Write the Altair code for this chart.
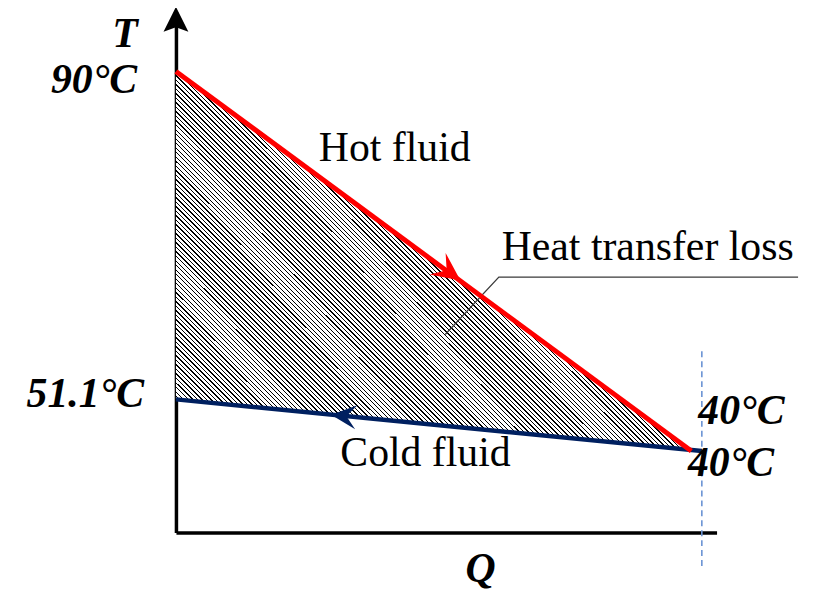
import altair as alt
import pandas as pd

# ---------------- values ----------------
# Q as a fraction of the exchanger duty, T in degC (schematic, broken T axis)
hot_q = [0.0, 0.98]
hot_t = [90.0, 40.0]
cold_q = [0.0, 1.0]
cold_t = [51.1, 40.0]

loss_q = [0.0, 0.98]
loss_hot_t = [90.0, 40.0]
loss_cold_t = [51.1, 40.2]

# flow-direction arrow tips on each stream
hot_arrow_q = [0.541]
hot_arrow_t = [65.2]
cold_arrow_q = [0.295]
cold_arrow_t = [47.8]

# end of exchanger (dashed marker) and leader of the "loss" callout
end_q = [1.0]
end_t_top = [56.8]
end_t_bottom = [14.8]
leader_q = [0.512, 0.614, 1.183]
leader_t = [58.8, 65.6, 65.6]

# annotation texts and their anchors
temp_labels = ["90°C", "51.1°C", "40°C", "40°C"]
temp_q = [0.0, 0.0, 0.98, 1.0]
temp_t = [90.0, 51.1, 40.0, 40.0]
stream_labels = ["Hot fluid", "Cold fluid", "Heat transfer loss"]
stream_q = [0.416, 0.4745, 0.897]
stream_t = [79.4, 36.8, 67.6]

# axis extents (scale limits of the schematic)
q_axis = [0.0, 1.028]
t_axis = [22.5, 51.1, 97.07]

# ---------------- scales & axes ----------------
W, H = 544, 524
xs = alt.Scale(domain=q_axis, range=[0, W], nice=False, zero=False)
ys = alt.Scale(domain=t_axis, range=[H, 390, 0], nice=False, zero=False)

SERIF = "Liberation Serif"

x_axis = alt.Axis(title="Q", labels=False, ticks=False, grid=False,
                  domain=True, domainColor="black", domainWidth=3.5,
                  titleFont=SERIF, titleFontSize=42, titleFontStyle="italic",
                  titleFontWeight="bold", titleColor="black",
                  titleX=306, titleY=49, titleAlign="center",
                  titleBaseline="alphabetic")
y_axis = alt.Axis(title="T", labels=False, ticks=False, grid=False,
                  domain=True, domainColor="black", domainWidth=3.5,
                  titleFont=SERIF, titleFontSize=42, titleFontStyle="italic",
                  titleFontWeight="bold", titleColor="black", titleAngle=0,
                  titleX=-39, titleY=35, titleAlign="right",
                  titleBaseline="alphabetic")


def X(field):
    return alt.X(field, type="quantitative", scale=xs, axis=x_axis)


def Y(field):
    return alt.Y(field, type="quantitative", scale=ys, axis=y_axis)


# ---------------- hatch fill (pattern style of the loss region) ----------------
bw, bh = 518.0, 382.0
period = 3.2
ink = 0.3
span = (bw + bh) / 2 ** 0.5
n = int(span / period)
s = (bw + bh) / (bw ** 2 + bh ** 2)
stops = []
for i in range(n):
    a = i / n
    b = (i + ink) / n
    c = min((i + 1) / n, 1.0)
    stops += [
        alt.GradientStop(color="#000000", offset=a),
        alt.GradientStop(color="#000000", offset=b),
        alt.GradientStop(color="#ffffff", offset=b),
        alt.GradientStop(color="#ffffff", offset=c),
    ]
hatch = alt.LinearGradient(gradient="linear", stops=stops,
                           x1=0.0, y1=1.0, x2=bw * s, y2=1.0 - bh * s)

# ---------------- layers ----------------
loss_df = pd.DataFrame({"q": loss_q, "hot": loss_hot_t, "cold": loss_cold_t})
loss = alt.Chart(loss_df).mark_area(fill=hatch, strokeWidth=0).encode(
    x=X("q"), y=Y("hot"), y2=alt.Y2("cold"))

leader = alt.Chart(pd.DataFrame({"q": leader_q, "t": leader_t,
                                 "o": list(range(len(leader_q)))})).mark_line(
    color="#3a3a3a", strokeWidth=1.3).encode(
    x=X("q"), y=Y("t"), order="o:Q")

end_df = pd.DataFrame({"q": end_q, "t1": end_t_top, "t2": end_t_bottom})
end_rule = alt.Chart(end_df).mark_rule(
    color="#6a93d4", strokeWidth=1.6, strokeDash=[6, 4]).encode(
    x=X("q"), y=Y("t1"), y2=alt.Y2("t2"))

cold = alt.Chart(pd.DataFrame({"q": cold_q, "t": cold_t})).mark_line(
    color="#002060", strokeWidth=4.5).encode(x=X("q"), y=Y("t"))
hot = alt.Chart(pd.DataFrame({"q": hot_q, "t": hot_t})).mark_line(
    color="#ff0000", strokeWidth=5).encode(x=X("q"), y=Y("t"))

ARROW = "M0,0 L-1.9,-0.9 L-1.15,0 L-1.9,0.9 Z"
hot_arrow = alt.Chart(pd.DataFrame({"q": hot_arrow_q, "t": hot_arrow_t})).mark_point(
    shape=ARROW, filled=True, color="#ff0000", opacity=1, size=900,
    angle=36.4, strokeWidth=0).encode(x=X("q"), y=Y("t"))
cold_arrow = alt.Chart(pd.DataFrame({"q": cold_arrow_q, "t": cold_arrow_t})).mark_point(
    shape=ARROW, filled=True, color="#002060", opacity=1, size=720,
    angle=185.6, strokeWidth=0).encode(x=X("q"), y=Y("t"))

AXIS_ARROW = "M0.4,0 L-1.6,-1 L-1.25,0 L-1.6,1 Z"
axis_arrow = alt.Chart(pd.DataFrame({"q": [q_axis[0]], "t": [t_axis[-1]]})).mark_point(
    shape=AXIS_ARROW, filled=True, color="black", opacity=1, size=625,
    angle=270, strokeWidth=0).encode(x=X("q"), y=Y("t"))

# temperature labels (bold italic); offsets are pure text placement
temp_df = pd.DataFrame({"q": temp_q, "t": temp_t, "label": temp_labels})
offsets = [(-39, 22, "right"), (-32, 8, "right"), (7, -27, "left"), (-14, 25, "left")]
temp_layers = []
for i, (dx, dy, al) in enumerate(offsets):
    temp_layers.append(
        alt.Chart(temp_df.iloc[[i]]).mark_text(
            font=SERIF, fontSize=42, fontStyle="italic", fontWeight="bold",
            color="black", align=al, baseline="alphabetic", dx=dx, dy=dy
        ).encode(x=X("q"), y=Y("t"), text="label:N")
    )

stream_df = pd.DataFrame({"q": stream_q, "t": stream_t, "label": stream_labels})
stream_text = alt.Chart(stream_df).mark_text(
    font=SERIF, fontSize=42, color="black", align="center",
    baseline="alphabetic").encode(x=X("q"), y=Y("t"), text="label:N")

chart = alt.layer(
    loss, leader, end_rule, cold, hot, hot_arrow, cold_arrow, axis_arrow,
    *temp_layers, stream_text
).properties(
    width=W, height=H,
    padding={"left": 169, "top": 2, "right": 90, "bottom": 60},
    autosize=alt.AutoSizeParams(type="none"),
    background="white",
).configure_view(stroke=None)

chart.save("out.html", embed_options={"renderer": "svg", "actions": False})
